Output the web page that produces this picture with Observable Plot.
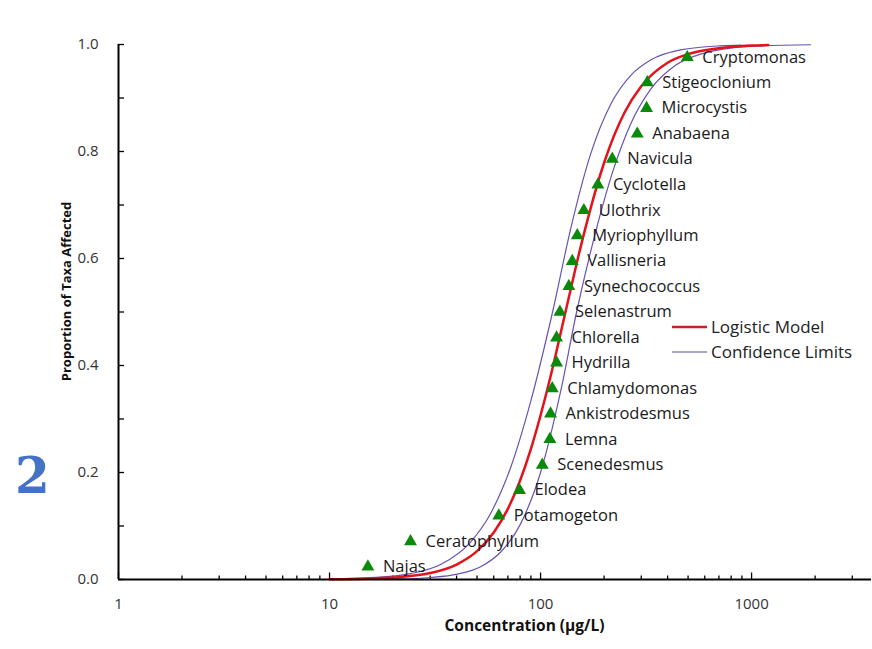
<!DOCTYPE html>
<html><head><meta charset="utf-8">
<script src="https://cdn.jsdelivr.net/npm/d3@7"></script>
<script src="https://cdn.jsdelivr.net/npm/@observablehq/plot@0.6"></script>
<style>
body{margin:0;background:#fff;}
#wrap{position:relative;width:872px;height:649px;}
#legend{position:absolute;left:672px;top:314px;font:17px "Open Sans";color:#222;}
#legend .row{display:flex;align-items:center;height:25px;}
#legend svg{display:block;margin-right:4px;}
</style></head><body><div id="wrap"><div id="legend">
<div class="row"><svg width="35" height="6"><line x1="0" x2="35" y1="3" y2="3" stroke="#c8202a" stroke-width="2.5"/></svg><span>Logistic Model</span></div>
<div class="row"><svg width="35" height="6"><line x1="0" x2="35" y1="3" y2="3" stroke="#5d4b9c" stroke-width="1.2"/></svg><span>Confidence Limits</span></div>
</div></div>
<script>
// Taxa (sorted by sensitivity) and observed points
const taxa = ["Najas","Ceratophyllum","Potamogeton","Elodea","Scenedesmus","Lemna","Ankistrodesmus","Chlamydomonas","Hydrilla","Chlorella","Selenastrum","Synechococcus","Vallisneria","Myriophyllum","Ulothrix","Cyclotella","Navicula","Anabaena","Microcystis","Stigeoclonium","Cryptomonas"];
const taxaConc = [15.2,24.2,63.4,79.5,101.9,110.7,111.5,113.6,119.1,119.1,123.5,136.2,141.3,149.3,160.4,186.9,218.7,287.3,318.0,320.4,495.8];
const taxaProp = [0.024,0.071,0.119,0.167,0.214,0.262,0.310,0.357,0.405,0.452,0.500,0.548,0.595,0.643,0.690,0.738,0.786,0.833,0.881,0.929,0.976];

// Logistic model curve
const modelConc = [10,15,20,30,40,50,60,70,80,90,100,110,120,130,140,150,170,200,250,300,400,500,700,1000,1200];
const modelProp = [0.0005,0.0015,0.0036,0.012,0.028,0.053,0.088,0.132,0.185,0.244,0.307,0.370,0.433,0.493,0.548,0.599,0.684,0.779,0.873,0.922,0.966,0.982,0.993,0.998,0.999];

// Confidence limits
const lowerConc = [10,17.4,24.2,33.6,46.6,57.9,72.1,89.7,114.0,138.8,172.6,214.7,267.0,332.1,460.8,713.1,887.0];
const lowerProp = [0.001,0.0043,0.011,0.028,0.070,0.123,0.209,0.332,0.500,0.655,0.795,0.888,0.942,0.971,0.990,0.9975,0.9988];
const upperConc = [10,21.7,30.1,40.3,52.0,64.6,80.4,100,124.4,148.2,182.2,221.8,267.0,332.1,436.3,573.2,989,1904];
const upperProp = [0.0001,0.0011,0.0037,0.010,0.024,0.051,0.104,0.200,0.351,0.500,0.649,0.767,0.851,0.916,0.961,0.982,0.9964,0.9995];

// Axis ticks
const xMajor = [1,10,100,1000];
const xMinor = [2,3,4,5,6,7,8,9,20,30,40,50,60,70,80,90,200,300,400,500,600,700,800,900,2000,3000];
const yMinor = [0,0.1,0.2,0.3,0.4,0.5,0.6,0.7,0.8,0.9,1.0];
const yMajor = [0,0.2,0.4,0.6,0.8,1.0];

const pts = taxa.map((t,i)=>({name:t, x:taxaConc[i], y:taxaProp[i]}));
const toXY = (xs, ys) => xs.map((x,i)=>({x, y:ys[i]}));
const model = toXY(modelConc, modelProp);
const lower = toXY(lowerConc, lowerProp);
const upper = toXY(upperConc, upperProp);

const chart = Plot.plot({
  width: 872, height: 649,
  marginLeft: 118, marginRight: 1, marginTop: 44, marginBottom: 70,
  style: {fontFamily: "Open Sans", background: "#fff", overflow: "visible"},
  x: {type: "log", domain: [1, 3700]},
  y: {domain: [0, 1]},
  marks: [
    Plot.axisX({ticks: xMinor, tickSize: -3.5, tickFormat: () => "", label: null, strokeWidth: 1.3}),
    Plot.axisX({ticks: xMajor, tickSize: -6.5, tickFormat: () => "", label: null, strokeWidth: 1.3}),
    Plot.axisX({ticks: xMajor, tickSize: 0, tickPadding: 19, tickFormat: d => String(d), label: null, fontSize: 15, color: "#333"}),
    Plot.axisY({ticks: yMinor, tickSize: -6, tickFormat: () => "", label: null, strokeWidth: 1.3}),
    Plot.axisY({ticks: yMajor, tickSize: 0, tickPadding: 20, tickFormat: d3.format(".1f"), label: null, fontSize: 15, color: "#333"}),
    Plot.line(lower, {x: "x", y: "y", curve: "monotone-x", stroke: "#6a52b0", strokeWidth: 1.2}),
    Plot.line(upper, {x: "x", y: "y", curve: "monotone-x", stroke: "#6a52b0", strokeWidth: 1.2}),
    Plot.line(model, {x: "x", y: "y", curve: "monotone-x", stroke: "#e3121b", strokeWidth: 2.5}),
    Plot.ruleY([0], {strokeWidth: 2}),
    Plot.ruleX([1], {strokeWidth: 2}),
    Plot.dot(pts, {x: "x", y: "y", symbol: "triangle", r: 4.8, fill: "#0a8a0a", stroke: "none"}),
    Plot.text(pts, {x: "x", y: "y", text: "name", dx: 15, textAnchor: "start", fontSize: 16.5, fill: "#1a1a1a"}),
    Plot.text(["Concentration (µg/L)"], {frameAnchor: "bottom", textAnchor: "middle", lineAnchor: "middle", dx: 29.5, dy: 47, fontWeight: "bold", fontSize: 15.5, fill: "#111"}),
    Plot.text(["Proportion of Taxa Affected"], {frameAnchor: "left", textAnchor: "middle", lineAnchor: "middle", rotate: -90, dx: -51.5, dy: -20.5, fontWeight: "bold", fontSize: 13, fill: "#111"}),
    Plot.text(["2"], {frameAnchor: "left", textAnchor: "middle", lineAnchor: "middle", dx: -86, dy: 164.5, fontWeight: "bold", fontSize: 50, fill: "#4472c4", fontFamily: "DejaVu Serif"})
  ]
});
document.getElementById("wrap").prepend(chart);
</script>
</body></html>
